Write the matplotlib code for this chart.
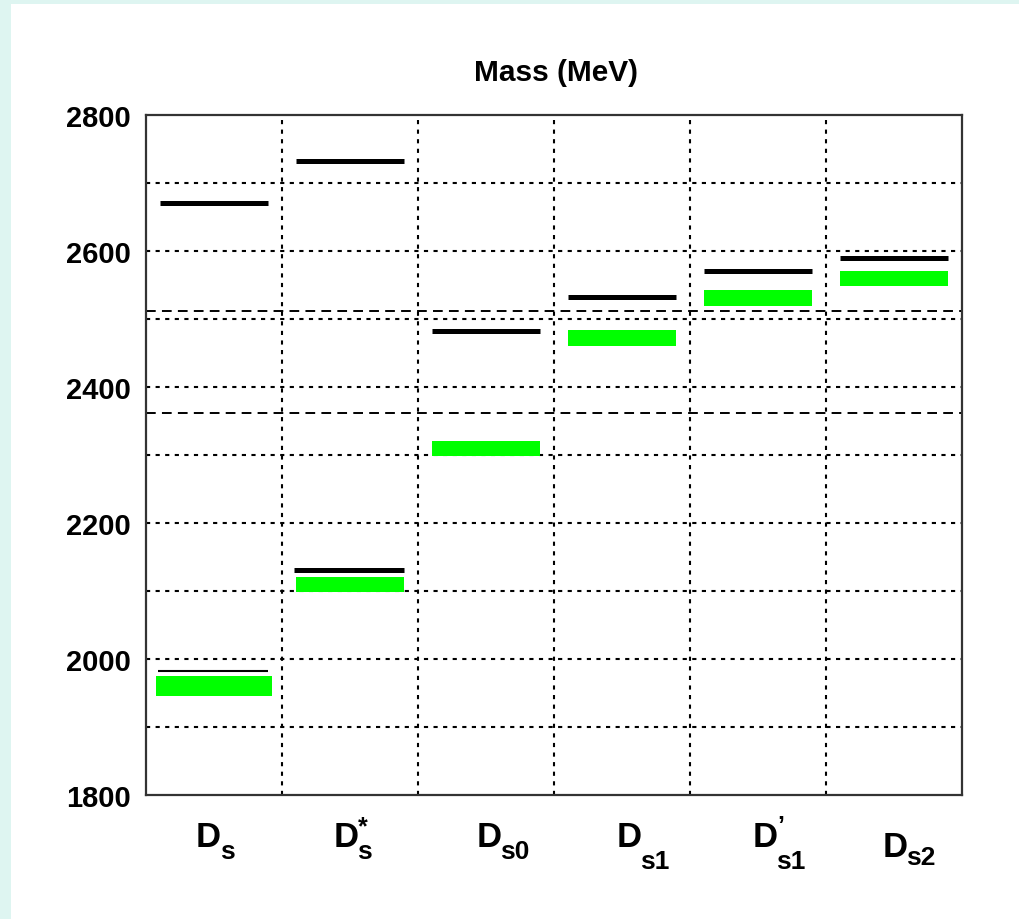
import matplotlib
matplotlib.use("Agg")
import matplotlib.pyplot as plt
from matplotlib.patches import Rectangle

plt.rcParams["font.family"] = ["Liberation Sans", "DejaVu Sans"]

# states along the x axis: (base, subscript, superscript)
states = [("D", "s", ""), ("D", "s", "*"), ("D", "s0", ""),
          ("D", "s1", ""), ("D", "s1", "\u2019"), ("D", "s2", "")]

# black levels (MeV); upper row, and the lower row where a state has one
black_upper = [2670, 2732, 2482, 2532, 2570, 2590]
black_lower = [1982, 2131, None, None, None, None]

# green bands (MeV): lower and upper edge
green_lo = [1946, 2098, 2298, 2460, 2519, 2549]
green_hi = [1975, 2121, 2320, 2484, 2543, 2571]

# threshold lines (MeV)
thresholds = [2362, 2512]

y_major = [1800, 2000, 2200, 2400, 2600, 2800]
y_minor = [1900, 2100, 2300, 2500, 2700]

W, H, DPI = 1019, 920, 100
fig = plt.figure(figsize=(W / DPI, H / DPI), dpi=DPI)
fig.patch.set_facecolor("#def5f1")
fig.patches.append(Rectangle((11 / W, 0), 1 - 11 / W, 1 - 5 / H,
                             transform=fig.transFigure, facecolor="white",
                             edgecolor="none", zorder=-10))

ax = fig.add_axes([146 / W, 1 - 796 / H, (962 - 146) / W, (796 - 116) / H])
ax.set_facecolor("white")
ax.set_xlim(0, len(states))
ax.set_ylim(1800, 2800)

dot = (0, (2.0, 2.6))
grid_kw = dict(color="black", lw=1.5, linestyle=dot, zorder=1)
for y in y_major[1:-1] + y_minor:
    ax.axhline(y, **grid_kw)
for x in range(1, len(states)):
    ax.axvline(x, **grid_kw)
for y in thresholds:
    ax.axhline(y, color="black", lw=1.4, linestyle=(0, (5.0, 3.2)), zorder=1)

for i in range(len(states)):
    pad = 0.07 if i == 0 else 0.1
    ax.bar(i + 0.5, green_hi[i] - green_lo[i], bottom=green_lo[i],
           width=1 - 2 * pad, color="#00ff00", edgecolor="none", zorder=2)
    ax.hlines(black_upper[i], i + 0.1, i + 0.9, color="black", lw=3.6, zorder=3)
    if black_lower[i] is not None:
        # the D_s ground level is drawn as a thin line
        lw = 1.5 if i == 0 else 3.6
        ax.hlines(black_lower[i], i + 0.09, i + 0.9, color="black", lw=lw, zorder=3)

ax.set_yticks(y_major)
ax.set_yticklabels([str(v) for v in y_major], fontsize=21, fontweight="bold")
ax.set_xticks([])
ax.tick_params(axis="y", length=0, pad=11)
for s in ax.spines.values():
    s.set_color("#333333")
    s.set_linewidth(1.6)

fig.text(556 / W, 1 - 73 / H, "Mass (MeV)", ha="center", va="center",
         fontsize=21.5, fontweight="bold")

# category labels: D plus sub/superscript, offsets in points from the cell centre
label_dx = [-13, -12, -7, -4, -4, -8]
label_dy = [-18, -18, -18, -18, -18, -25]
sub_drop = [14, 14, 14, 21, 21, 11]
for i, (base, sub, sup) in enumerate(states):
    xy = (i + 0.5, 0)
    kw = dict(xycoords=("data", "axes fraction"), textcoords="offset points",
              fontweight="bold", va="top", ha="left")
    ax.annotate(base, xy, xytext=(label_dx[i], label_dy[i]), fontsize=25, **kw)
    ax.annotate(sub, xy, xytext=(label_dx[i] + 17, label_dy[i] - sub_drop[i]),
                fontsize=19, **kw)
    if sup:
        ax.annotate(sup, xy, xytext=(label_dx[i] + 18, label_dy[i] + 4),
                    fontsize=18, **kw)

fig.savefig("out.png", dpi=DPI)
